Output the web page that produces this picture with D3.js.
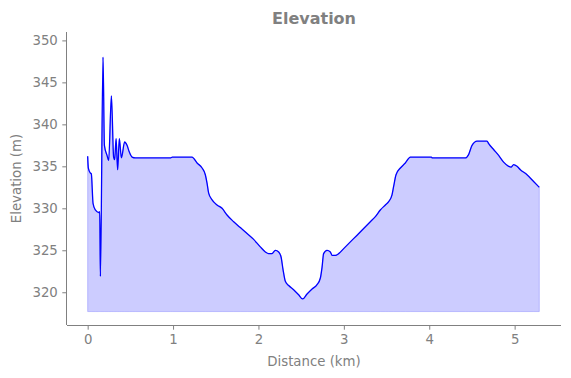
<!DOCTYPE html>
<html>
<head>
<meta charset="utf-8">
<title>Elevation</title>
<style>
  body { margin: 0; background: #fff; }
  svg { display: block; font-family: "DejaVu Sans", sans-serif; }
  .axis text { fill: #808080; font-size: 13.3px; font-family: "DejaVu Sans", sans-serif; }
  .axis path, .axis line { stroke: #808080; }
</style>
</head>
<body>
<svg id="chart" width="571" height="378"></svg>
<script src="https://cdn.jsdelivr.net/npm/d3@7"></script>
<script>
// distance along the route (km)
var distance = [0.000, 0.008, 0.032, 0.043, 0.063, 0.090, 0.129, 0.141, 0.149, 0.180,
  0.196, 0.227, 0.246, 0.278, 0.304, 0.316, 0.333, 0.351, 0.371, 0.395,
  0.433, 0.461, 0.488, 0.520, 0.559, 0.968, 0.992, 1.222, 1.281, 1.340,
  1.378, 1.398, 1.417, 1.457, 1.515, 1.574, 1.632, 1.710, 1.788, 1.867,
  1.944, 2.022, 2.081, 2.119, 2.159, 2.198, 2.237, 2.265, 2.288, 2.315,
  2.354, 2.412, 2.471, 2.518, 2.569, 2.628, 2.686, 2.725, 2.745, 2.763,
  2.803, 2.842, 2.862, 2.900, 2.939, 2.998, 3.076, 3.155, 3.232, 3.310,
  3.369, 3.427, 3.486, 3.525, 3.564, 3.583, 3.611, 3.662, 3.720, 3.779,
  4.025, 4.036, 4.423, 4.461, 4.501, 4.560, 4.677, 4.696, 4.754, 4.813,
  4.871, 4.930, 4.958, 4.988, 5.028, 5.067, 5.145, 5.222, 5.289]

// elevation (m)
var elevation = [336.2, 334.8, 334.2, 334.1, 330.6, 329.8, 329.5, 329.6, 321.9, 348.0,
  337.5, 336.3, 335.7, 343.4, 336.1, 335.8, 338.3, 334.6, 338.3, 336.0,
  337.9, 337.5, 336.7, 336.1, 336.0, 336.0, 336.1, 336.1, 335.4, 334.8,
  334.0, 333.0, 331.8, 331.0, 330.4, 330.0, 329.2, 328.4, 327.7, 327.0,
  326.3, 325.4, 324.8, 324.6, 324.6, 325.0, 324.8, 324.2, 322.7, 321.3,
  320.8, 320.3, 319.7, 319.2, 319.8, 320.4, 320.9, 321.7, 323.0, 324.6,
  325.0, 324.8, 324.4, 324.4, 324.6, 325.2, 326.0, 326.8, 327.6, 328.4,
  329.0, 329.8, 330.4, 330.8, 331.6, 332.6, 334.0, 334.8, 335.4, 336.1,
  336.1, 336.0, 336.0, 336.4, 337.5, 338.0, 338.0, 337.7, 337.0, 336.3,
  335.5, 335.0, 334.9, 335.2, 335.0, 334.6, 334.0, 333.2, 332.5]

var fillBase = 317.7
var xTicks = [0, 1, 2, 3, 4, 5]
var yTicks = [320, 325, 330, 335, 340, 345, 350]

var data = distance.map((d, i) => ({ d: d, e: elevation[i] }))

var svg = d3.select('#chart')
var plotLeft = 67, plotRight = 561, plotTop = 32, plotBottom = 325

var x = d3.scaleLinear().domain([-0.242, 5.543]).range([plotLeft, plotRight])
var y = d3.scaleLinear().domain([316.1, 351.0]).range([plotBottom, plotTop])

// filled area under the profile
var area = d3.area()
  .x(d => x(d.d))
  .y0(y(fillBase))
  .y1(d => y(d.e))
  .curve(d3.curveMonotoneX)

svg.append('path')
  .datum(data)
  .attr('d', area)
  .attr('fill', 'rgba(0,0,255,0.2)')
  .attr('stroke', 'rgba(0,0,255,0.2)')
  .attr('stroke-width', 1)

var line = d3.line()
  .x(d => x(d.d))
  .y(d => y(d.e))
  .curve(d3.curveMonotoneX)

svg.append('path')
  .datum(data)
  .attr('d', line)
  .attr('fill', 'none')
  .attr('stroke', '#0000ff')
  .attr('stroke-width', 1.3)

// axes (only left and bottom spines)
var xAxis = svg.append('g')
  .attr('class', 'axis')
  .attr('transform', 'translate(0,' + plotBottom + ')')
  .call(d3.axisBottom(x).tickValues(xTicks).tickSize(4.7).tickPadding(4.5).tickFormat(d3.format('d')))
xAxis.select('.domain').attr('d', 'M' + plotLeft + ',0.5H' + plotRight)

var yAxis = svg.append('g')
  .attr('class', 'axis')
  .attr('transform', 'translate(' + plotLeft + ',0)')
  .call(d3.axisLeft(y).tickValues(yTicks).tickSize(4.7).tickPadding(4.5).tickFormat(d3.format('d')))
yAxis.select('.domain').attr('d', 'M-0.5,' + plotTop + 'V' + plotBottom)

svg.append('text')
  .attr('x', (plotLeft + plotRight) / 2)
  .attr('y', 24)
  .attr('text-anchor', 'middle')
  .attr('fill', '#808080')
  .style('font-size', '16px')
  .style('font-weight', 'bold')
  .text('Elevation')

svg.append('text')
  .attr('x', (plotLeft + plotRight) / 2)
  .attr('y', 366)
  .attr('text-anchor', 'middle')
  .attr('fill', '#808080')
  .style('font-size', '13.3px')
  .text('Distance (km)')

svg.append('text')
  .attr('transform', 'translate(21,' + (plotTop + plotBottom) / 2 + ') rotate(-90)')
  .attr('text-anchor', 'middle')
  .attr('fill', '#808080')
  .style('font-size', '13.3px')
  .text('Elevation (m)')
</script>
</body>
</html>
